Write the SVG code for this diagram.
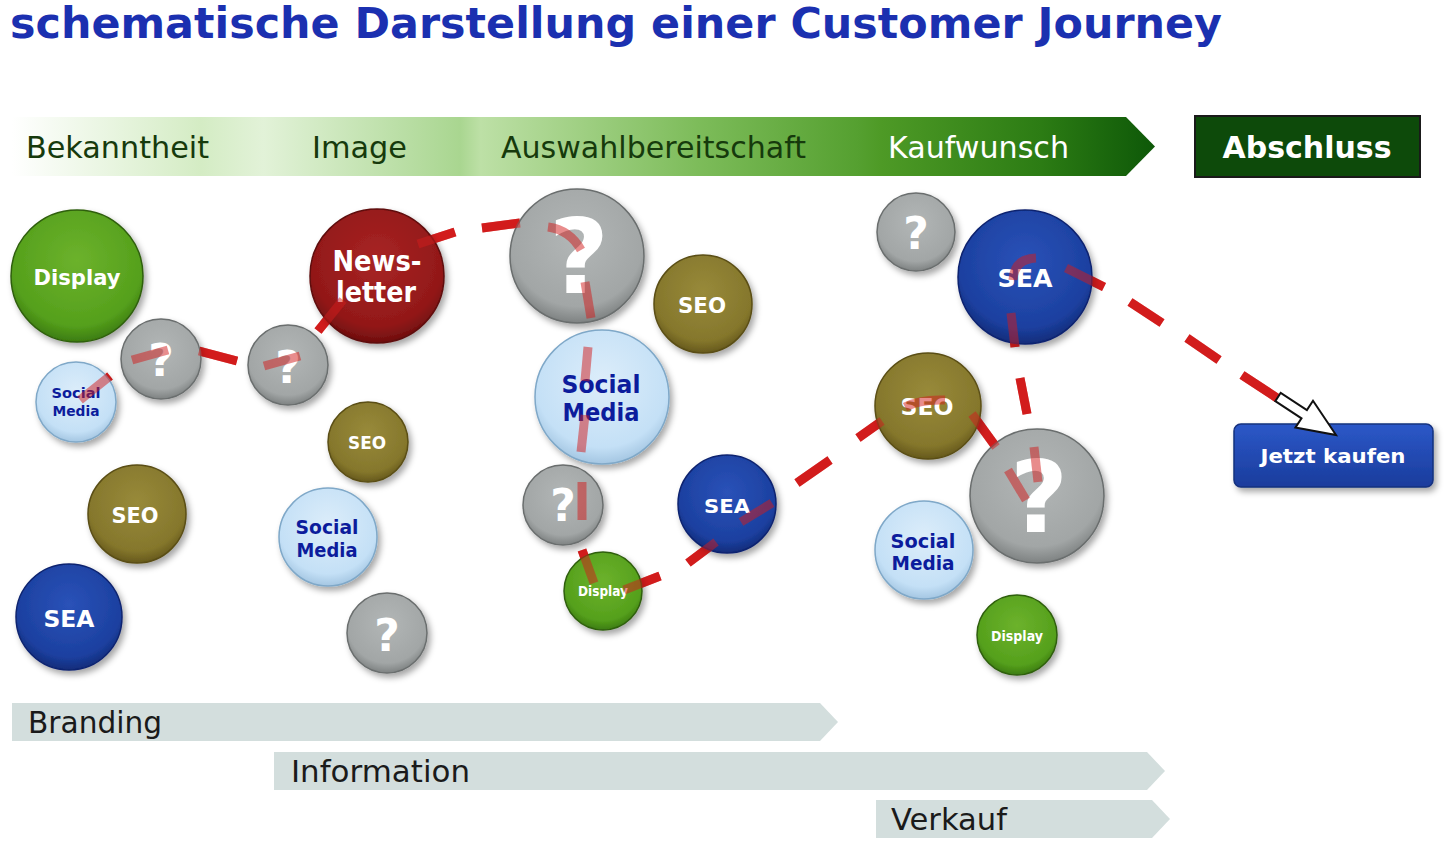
<svg xmlns="http://www.w3.org/2000/svg" xmlns:xlink="http://www.w3.org/1999/xlink" width="1453" height="841" viewBox="0 0 1453 841">
<style>
.title{font-family:"DejaVu Sans",Verdana,sans-serif;font-weight:bold;font-size:42px;fill:#1b30b0}
.phase{font-family:"DejaVu Sans",Verdana,sans-serif;font-size:30px;fill:#163a0c}
.phasew{font-family:"DejaVu Sans",Verdana,sans-serif;font-size:30px;fill:#ffffff}
.bar{fill:#d3dedd}
.bartxt{font-family:"DejaVu Sans",Verdana,sans-serif;font-size:30px;fill:#1a1a1a}
.tw{font-family:"DejaVu Sans",Verdana,sans-serif;font-weight:bold;fill:#ffffff;text-anchor:middle}
.tb{font-family:"DejaVu Sans",Verdana,sans-serif;font-weight:bold;fill:#0c1c9c;text-anchor:middle}
.node circle{filter:url(#sh);stroke-width:1.5}
.green{fill:url(#gGreen);stroke:#2f5f0c}
.red{fill:url(#gRed);stroke:#5e0c0c}
.gray{fill:url(#gGray);stroke:#6a6e6e}
.olive{fill:url(#gOlive);stroke:#5a4e14}
.blue{fill:url(#gBlue);stroke:#0e2470}
.lblue{fill:url(#gLblue);stroke:#7fa8c8}
.dash{stroke:#d21c1c;stroke-width:9;fill:none;stroke-linecap:butt}
</style>
<defs>
<filter id="sh" x="-20%" y="-20%" width="150%" height="150%">
<feDropShadow dx="3" dy="4" stdDeviation="3" flood-color="#000" flood-opacity="0.35"/>
</filter>
<radialGradient id="gGreen" cx="50%" cy="38%" r="62%"><stop offset="0" stop-color="#6cb22c"/><stop offset="0.8" stop-color="#55a01c"/><stop offset="1" stop-color="#3c7c10"/></radialGradient>
<radialGradient id="gRed" cx="50%" cy="38%" r="62%"><stop offset="0" stop-color="#a82424"/><stop offset="0.8" stop-color="#921818"/><stop offset="1" stop-color="#6e0e0e"/></radialGradient>
<radialGradient id="gGray" cx="50%" cy="38%" r="62%"><stop offset="0" stop-color="#b2b6b6"/><stop offset="0.8" stop-color="#a2a6a6"/><stop offset="1" stop-color="#7e8282"/></radialGradient>
<radialGradient id="gOlive" cx="50%" cy="38%" r="62%"><stop offset="0" stop-color="#988a3a"/><stop offset="0.8" stop-color="#85772c"/><stop offset="1" stop-color="#66591c"/></radialGradient>
<radialGradient id="gBlue" cx="50%" cy="38%" r="62%"><stop offset="0" stop-color="#2a52b8"/><stop offset="0.8" stop-color="#1c40a0"/><stop offset="1" stop-color="#122c7a"/></radialGradient>
<radialGradient id="gLblue" cx="50%" cy="38%" r="62%"><stop offset="0" stop-color="#dcedfa"/><stop offset="0.8" stop-color="#c4e0f6"/><stop offset="1" stop-color="#a4c6e2"/></radialGradient>
<linearGradient id="gTop" gradientUnits="userSpaceOnUse" x1="12" y1="0" x2="1155" y2="0">
<stop offset="0" stop-color="#ffffff"/>
<stop offset="0.165" stop-color="#d4ecc4"/>
<stop offset="0.22" stop-color="#e2f2d8"/>
<stop offset="0.392" stop-color="#a9d690"/>
<stop offset="0.41" stop-color="#bde0a6"/>
<stop offset="0.6" stop-color="#7dbc5a"/>
<stop offset="0.74" stop-color="#55a030"/>
<stop offset="0.76" stop-color="#4e9a26"/>
<stop offset="0.9" stop-color="#2c7c14"/>
<stop offset="1" stop-color="#0e5808"/>
</linearGradient>
<linearGradient id="gBtn" x1="0" y1="0" x2="0" y2="1"><stop offset="0" stop-color="#2c58c8"/><stop offset="1" stop-color="#1a3c9c"/></linearGradient>
</defs>

<rect width="1453" height="841" fill="#ffffff"/>

<text class="title" x="10" y="38" textLength="1212" lengthAdjust="spacingAndGlyphs">schematische Darstellung einer Customer Journey</text>

<g id="phases">
<polygon points="12,117 1126,117 1155,146.5 1126,176 12,176" fill="url(#gTop)"/>
<text class="phase" x="26" y="158" textLength="183" lengthAdjust="spacingAndGlyphs">Bekanntheit</text>
<text class="phase" x="312" y="158" textLength="95" lengthAdjust="spacingAndGlyphs">Image</text>
<text class="phase" x="501" y="158" textLength="305" lengthAdjust="spacingAndGlyphs">Auswahlbereitschaft</text>
<text class="phasew" x="888" y="158" textLength="181" lengthAdjust="spacingAndGlyphs">Kaufwunsch</text>
</g>
<g id="abschluss">
<rect x="1195" y="116" width="225" height="61" fill="#0d4a0a" stroke="#1a1a1a" stroke-width="2"/>
<text class="tw" x="1307" y="158" font-size="30" textLength="169" lengthAdjust="spacingAndGlyphs">Abschluss</text>
</g>

<g id="connectors">
<g id="dashes" class="dash">
<line x1="80" y1="400" x2="110" y2="376"/>
<line x1="132" y1="360" x2="168" y2="350"/>
<line x1="199" y1="351" x2="237" y2="361"/>
<line x1="264" y1="366" x2="300" y2="356"/>
<line x1="318" y1="331" x2="343" y2="300"/>
<line x1="418" y1="244" x2="455" y2="232"/>
<line x1="482" y1="228" x2="520" y2="223"/>
<path d="M548,227 Q570,230 581,250"/>
<line x1="585" y1="282" x2="591" y2="318"/>
<line x1="588" y1="347" x2="585" y2="381"/>
<line x1="585" y1="415" x2="581" y2="452"/>
<line x1="582" y1="482" x2="582" y2="520"/>
<line x1="582" y1="550" x2="594" y2="583"/>
<line x1="624" y1="590" x2="660" y2="576"/>
<line x1="688" y1="563" x2="716" y2="542"/>
<line x1="741" y1="522" x2="772" y2="503"/>
<line x1="797" y1="483" x2="830" y2="460"/>
<line x1="858" y1="438" x2="882" y2="421"/>
<path d="M905,407 Q920,399 945,400"/>
<line x1="972" y1="414" x2="996" y2="447"/>
<line x1="1008" y1="470" x2="1026" y2="500"/>
<line x1="1038" y1="482" x2="1034" y2="447"/>
<line x1="1027" y1="414" x2="1020" y2="378"/>
<line x1="1015" y1="347" x2="1011" y2="313"/>
<path d="M1013,280 Q1014,259 1036,258"/>
<line x1="1066" y1="268" x2="1104" y2="287"/>
<line x1="1130" y1="302" x2="1162" y2="323"/>
<line x1="1187" y1="338" x2="1219" y2="360"/>
<line x1="1242" y1="375" x2="1277" y2="398"/>
</g>
</g>

<g id="nodes">
<g id="n-display1" class="node"><circle class="green" cx="77" cy="276" r="66"/><text class="tw" x="77" y="285" font-size="22" textLength="87" lengthAdjust="spacingAndGlyphs">Display</text></g>
<g id="n-social1" class="node"><circle class="lblue" cx="76" cy="402" r="40"/><text class="tb" x="76" y="398" font-size="14" textLength="49" lengthAdjust="spacingAndGlyphs">Social</text><text class="tb" x="76" y="416" font-size="14" textLength="47" lengthAdjust="spacingAndGlyphs">Media</text></g>
<g id="n-q1" class="node"><circle class="gray" cx="161" cy="359" r="40"/><text class="tw" x="161" y="376" font-size="44">?</text></g>
<g id="n-q2" class="node"><circle class="gray" cx="288" cy="365" r="40"/><text class="tw" x="288" y="383" font-size="44">?</text></g>
<g id="n-newsletter" class="node"><circle class="red" cx="377" cy="276" r="67"/><text class="tw" x="377" y="271" font-size="28" textLength="89" lengthAdjust="spacingAndGlyphs">News-</text><text class="tw" x="376" y="302" font-size="28" textLength="80" lengthAdjust="spacingAndGlyphs">letter</text></g>
<g id="n-seo1" class="node"><circle class="olive" cx="368" cy="442" r="40"/><text class="tw" x="367" y="449" font-size="17" textLength="38" lengthAdjust="spacingAndGlyphs">SEO</text></g>
<g id="n-seo2" class="node"><circle class="olive" cx="137" cy="514" r="49"/><text class="tw" x="135" y="523" font-size="21" textLength="47" lengthAdjust="spacingAndGlyphs">SEO</text></g>
<g id="n-sea1" class="node"><circle class="blue" cx="69" cy="617" r="53"/><text class="tw" x="69" y="627" font-size="23" textLength="51" lengthAdjust="spacingAndGlyphs">SEA</text></g>
<g id="n-social2" class="node"><circle class="lblue" cx="328" cy="537" r="49"/><text class="tb" x="327" y="534" font-size="20" textLength="63" lengthAdjust="spacingAndGlyphs">Social</text><text class="tb" x="327" y="557" font-size="20" textLength="61" lengthAdjust="spacingAndGlyphs">Media</text></g>
<g id="n-q3" class="node"><circle class="gray" cx="387" cy="633" r="40"/><text class="tw" x="387" y="651" font-size="44">?</text></g>
<g id="n-q4" class="node"><circle class="gray" cx="577" cy="256" r="67"/><text class="tw" x="579" y="293" font-size="104">?</text></g>
<g id="n-seo3" class="node"><circle class="olive" cx="703" cy="304" r="49"/><text class="tw" x="702" y="313" font-size="21" textLength="48" lengthAdjust="spacingAndGlyphs">SEO</text></g>
<g id="n-social3" class="node"><circle class="lblue" cx="602" cy="397" r="67"/><text class="tb" x="601" y="393" font-size="25" textLength="79" lengthAdjust="spacingAndGlyphs">Social</text><text class="tb" x="601" y="421" font-size="25" textLength="77" lengthAdjust="spacingAndGlyphs">Media</text></g>
<g id="n-q5" class="node"><circle class="gray" cx="563" cy="505" r="40"/><text class="tw" x="563" y="521" font-size="44">?</text></g>
<g id="n-sea2" class="node"><circle class="blue" cx="727" cy="504" r="49"/><text class="tw" x="727" y="513" font-size="20" textLength="46" lengthAdjust="spacingAndGlyphs">SEA</text></g>
<g id="n-display2" class="node"><circle class="green" cx="603" cy="591" r="39"/><text class="tw" x="603" y="596" font-size="14" textLength="50" lengthAdjust="spacingAndGlyphs">Display</text></g>
<g id="n-q6" class="node"><circle class="gray" cx="916" cy="232" r="39"/><text class="tw" x="916" y="249" font-size="44">?</text></g>
<g id="n-sea3" class="node"><circle class="blue" cx="1025" cy="277" r="67"/><text class="tw" x="1025" y="287" font-size="25" textLength="55" lengthAdjust="spacingAndGlyphs">SEA</text></g>
<g id="n-seo4" class="node"><circle class="olive" cx="928" cy="406" r="53"/><text class="tw" x="927" y="415" font-size="23" textLength="53" lengthAdjust="spacingAndGlyphs">SEO</text></g>
<g id="n-q7" class="node"><circle class="gray" cx="1037" cy="496" r="67"/><text class="tw" x="1039" y="532" font-size="100">?</text></g>
<g id="n-social4" class="node"><circle class="lblue" cx="924" cy="550" r="49"/><text class="tb" x="923" y="548" font-size="20" textLength="65" lengthAdjust="spacingAndGlyphs">Social</text><text class="tb" x="923" y="570" font-size="20" textLength="63" lengthAdjust="spacingAndGlyphs">Media</text></g>
<g id="n-display3" class="node"><circle class="green" cx="1017" cy="635" r="40"/><text class="tw" x="1017" y="641" font-size="14" textLength="52" lengthAdjust="spacingAndGlyphs">Display</text></g>
</g>

<use xlink:href="#dashes" href="#dashes" opacity="0.5"/>

<g id="n-kaufen">
<rect x="1234" y="424" width="199" height="63" rx="7" fill="url(#gBtn)" stroke="#14307e" stroke-width="1.5" filter="url(#sh)"/>
<text class="tw" x="1333" y="463" font-size="20" textLength="145" lengthAdjust="spacingAndGlyphs">Jetzt kaufen</text>
</g>
<polygon id="arrow" points="1275.3,401.2 1301.5,418.4 1295.4,427.6 1336,435 1313,400.8 1306.9,410 1280.7,392.8" fill="#ffffff" stroke="#111111" stroke-width="2" stroke-linejoin="miter"/>

<g id="stages">
<g id="s-branding"><polygon class="bar" points="12,703 820,703 838,722 820,741 12,741"/><text class="bartxt" x="28" y="733" textLength="134" lengthAdjust="spacingAndGlyphs">Branding</text></g>
<g id="s-information"><polygon class="bar" points="274,752 1147,752 1165,771 1147,790 274,790"/><text class="bartxt" x="291" y="782" textLength="179" lengthAdjust="spacingAndGlyphs">Information</text></g>
<g id="s-verkauf"><polygon class="bar" points="876,800 1152,800 1170,819 1152,838 876,838"/><text class="bartxt" x="891" y="830" textLength="116" lengthAdjust="spacingAndGlyphs">Verkauf</text></g>
</g>
</svg>
